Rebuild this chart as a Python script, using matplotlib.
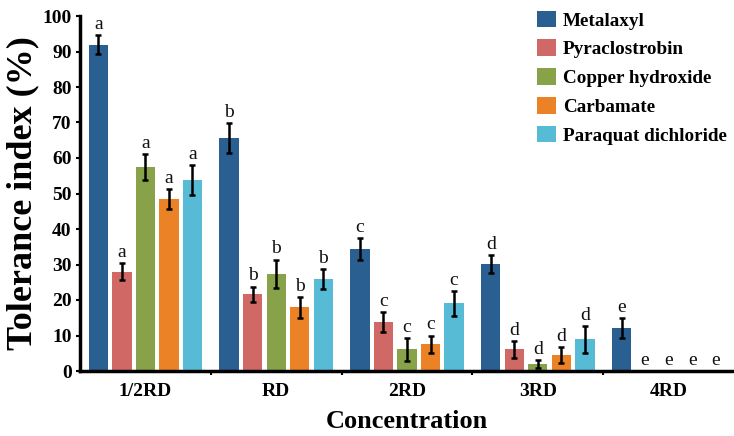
import matplotlib
matplotlib.use("Agg")
import matplotlib.pyplot as plt
import numpy as np

categories = ["1/2RD", "RD", "2RD", "3RD", "4RD"]
series = ["Metalaxyl", "Pyraclostrobin", "Copper hydroxide", "Carbamate", "Paraquat dichloride"]
colors = ["#2a5f92", "#d06865", "#88a24a", "#ec8226", "#58bbd6"]

metalaxyl = [91.9, 65.6, 34.4, 30.1, 12.2]
pyraclostrobin = [27.9, 21.6, 13.9, 6.1, 0]
copper = [57.5, 27.4, 6.1, 2.0, 0]
carbamate = [48.5, 17.9, 7.5, 4.5, 0]
paraquat = [53.7, 25.9, 19.1, 8.9, 0]

metalaxyl_err = [2.7, 4.3, 3.0, 2.5, 2.8]
pyraclostrobin_err = [2.4, 2.2, 2.8, 2.3, 0]
copper_err = [3.7, 4.0, 3.2, 1.1, 0]
carbamate_err = [2.8, 3.0, 2.5, 2.3, 0]
paraquat_err = [4.2, 2.8, 3.5, 3.7, 0]

metalaxyl_sig = ["a", "b", "c", "d", "e"]
pyraclostrobin_sig = ["a", "b", "c", "d", "e"]
copper_sig = ["a", "b", "c", "d", "e"]
carbamate_sig = ["a", "b", "c", "d", "e"]
paraquat_sig = ["a", "b", "c", "d", "e"]

values = [metalaxyl, pyraclostrobin, copper, carbamate, paraquat]
errors = [metalaxyl_err, pyraclostrobin_err, copper_err, carbamate_err, paraquat_err]
sigs = [metalaxyl_sig, pyraclostrobin_sig, copper_sig, carbamate_sig, paraquat_sig]

plt.rcParams['font.family'] = ['Liberation Serif', 'DejaVu Serif']

fig = plt.figure(figsize=(7.34, 4.36), dpi=100)
ax = fig.add_axes([80/734, 1 - 371/436, 654/734, (371-16)/436])

x = np.arange(len(categories))
step = 0.18
width = 0.148
for i, (name, vals, errs, sg, c) in enumerate(zip(series, values, errors, sigs, colors)):
    pos = x + (i - 2) * step
    ax.bar(pos, vals, width, color=c, label=name, zorder=2)
    for p, v, e, s in zip(pos, vals, errs, sg):
        if e > 0:
            ax.errorbar(p, v, yerr=e, fmt='none', ecolor='black', elinewidth=1.8,
                        capsize=2.5, capthick=1.8, zorder=3)
        ax.text(p, v + e + 0.6, s, ha='center', va='bottom', fontsize=14, color='#111111')

ax.set_xlim(-0.5, 4.5)
ax.set_ylim(0, 100)
ax.set_yticks(np.arange(0, 101, 10))
ax.set_xticks(x)
ax.set_xticklabels(categories)
ax.set_xticks(np.arange(0.5, 4.5, 1), minor=True)
ax.tick_params(axis='x', which='major', length=0, pad=9, labelsize=14)
ax.tick_params(axis='x', which='minor', length=3, width=1.5, direction='out')
ax.tick_params(axis='y', length=3, width=1.5, direction='out', pad=3, labelsize=14)
for lab in ax.get_xticklabels() + ax.get_yticklabels():
    lab.set_fontweight('bold')

for s in ['top', 'right']:
    ax.spines[s].set_visible(False)
for s in ['left', 'bottom']:
    ax.spines[s].set_linewidth(2.5)
    ax.spines[s].set_color('black')

ax.set_ylabel("Tolerance index (%)", fontsize=26, fontweight='bold')
ax.yaxis.set_label_coords((39 - 80) / 654, 0.5)
ax.set_xlabel("Concentration", fontsize=19, fontweight='bold', labelpad=7)

leg = ax.legend(loc='upper left', bbox_to_anchor=((537-80)/654, 1.015), frameon=False,
                prop={'weight': 'bold', 'size': 13.8}, handlelength=1.0, handleheight=0.95,
                labelspacing=0.52, handletextpad=0.35, borderpad=0, borderaxespad=0)

fig.savefig("out.png", dpi=100)
